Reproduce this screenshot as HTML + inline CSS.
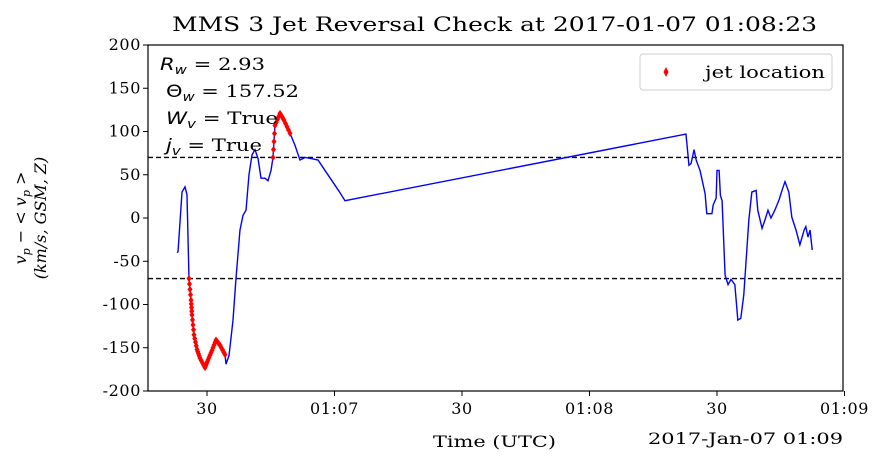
<!DOCTYPE html>
<html><head><meta charset="utf-8"><style>
body{margin:0;background:#fff;}
svg text{font-family:"DejaVu Serif","Liberation Serif",serif;}
</style></head><body>
<svg id="chart" width="887" height="467" xmlns="http://www.w3.org/2000/svg">
<text x="172" y="31" font-size="20" textLength="645" lengthAdjust="spacingAndGlyphs">MMS 3 Jet Reversal Check at 2017-01-07 01:08:23</text>
<g id="plot"></g>
<rect x="148" y="45" width="695" height="346" fill="none" stroke="#000" stroke-width="1.2"/>
<g font-size="17">
<text x="160" y="70" textLength="105" lengthAdjust="spacingAndGlyphs"><tspan font-style="italic" font-family="DejaVu Sans">R<tspan font-size="12" dy="4">w</tspan></tspan><tspan dy="-4"> = 2.93</tspan></text>
<text x="166" y="97" textLength="133" lengthAdjust="spacingAndGlyphs"><tspan font-family="DejaVu Sans">Θ<tspan font-size="12" dy="4" font-style="italic">w</tspan></tspan><tspan dy="-4"> = 157.52</tspan></text>
<text x="166" y="124" textLength="112" lengthAdjust="spacingAndGlyphs"><tspan font-style="italic" font-family="DejaVu Sans">W<tspan font-size="12" dy="4">v</tspan></tspan><tspan dy="-4"> = True</tspan></text>
<text x="166" y="151" textLength="96" lengthAdjust="spacingAndGlyphs"><tspan font-style="italic" font-family="DejaVu Sans">j<tspan font-size="12" dy="4">v</tspan></tspan><tspan dy="-4"> = True</tspan></text>
</g>
<g>
<rect x="640" y="54" width="192" height="36" rx="3" fill="#fff" stroke="#ccc"/>
<path d="M666 67 L668.5 72 L666 77 L663.5 72 Z" fill="red"/>
<text x="705" y="78" font-size="17" textLength="120" lengthAdjust="spacingAndGlyphs">jet location</text>
</g>
<g transform="translate(32,218) rotate(-90)" font-size="16" font-family="DejaVu Sans" text-anchor="middle">
<text x="0" y="-6" font-style="italic" font-family="DejaVu Sans">v<tspan font-size="11" dy="4">p</tspan><tspan dy="-4" font-style="normal"> − &lt; </tspan>v<tspan font-size="11" dy="4">p</tspan><tspan dy="-4" font-style="normal"> &gt;</tspan></text>
<text x="0" y="14" font-style="italic" font-family="DejaVu Sans">(km/s, GSM, Z)</text>
</g>
<text x="433" y="447" font-size="16" textLength="123" lengthAdjust="spacingAndGlyphs">Time (UTC)</text>
<text x="648" y="444" font-size="16" textLength="195" lengthAdjust="spacingAndGlyphs">2017-Jan-07 01:09</text>
</svg>
<script>
const times=[22.94,23.18,24.12,24.82,25.29,25.76,26.24,26.47,26.94,27.65,28.35,29.53,30.24,31.18,32.12,33.06,34.24,34.47,35.18,36.12,36.82,37.76,38.47,39.18,39.88,40.59,41.29,42.0,42.71,43.65,44.35,45.06,45.53,46.0,47.18,48.12,49.53,50.71,51.88,53.06,54.24,56.12,57.76,61.06,62.47,142.7,143.4,143.9,144.6,145.1,146.0,146.5,147.2,147.6,148.8,149.1,149.8,150.0,150.5,150.8,151.2,151.9,152.6,153.3,154.2,154.9,155.6,156.3,157.5,158.2,159.2,159.6,160.6,161.3,162.0,162.7,163.6,164.6,165.3,166.0,166.9,167.6,168.6,169.5,170.5,170.9,171.4,171.9,172.4];
const values=[-40,-39,30,36,27,-70,-95,-112,-135,-152,-162,-173,-164,-153,-141,-147,-158,-169,-159,-118,-70,-14,3,9,50,73,79,69,46,46,43,55,70,107,121,113,98,84,67,70,69,67,55,31,20,97,61,63,79,67,55,44,28,5,5,15,23,55,55,26,20,-66,-77,-71,-77,-118,-116,-89,-2,30,32,9,-12,-2,9,0,9,21,32,42,30,1,-14,-31,-14,-10,-22,-14,-37];
const jetRanges=[[25.7,34.3],[45.5,49.6]];
const yTicks=[200,150,100,50,0,-50,-100,-150,-200];
const xTickTimes=[30,60,90,120,150,180];
const xTickLabels=["30","01:07","30","01:08","30","01:09"];
const threshold=70;

const X=t=>207+(t-30)*4.25;
const Y=v=>218-v*0.865;
const NS="http://www.w3.org/2000/svg";
const g=document.getElementById('plot');
function mk(tag,attrs){const e=document.createElementNS(NS,tag);for(const k in attrs)e.setAttribute(k,attrs[k]);g.appendChild(e);return e;}

yTicks.forEach(v=>{
 const l=mk('line',{x1:143,x2:148,y1:Y(v),y2:Y(v),stroke:'#000'});
 
 
 const t=mk('text',{x:141,y:Y(v)+5,'font-size':16,'text-anchor':'end','letter-spacing':'0.6'});
 t.textContent=v;
 
 
});
xTickTimes.forEach((tt,i)=>{
 const l=mk('line',{x1:X(tt),x2:X(tt),y1:391,y2:396,stroke:'#000'});
 
 
 const t=mk('text',{x:X(tt),y:414,'font-size':16,'text-anchor':'middle','letter-spacing':'0.6'});
 t.textContent=xTickLabels[i];
 
 
});
[threshold,-threshold].forEach(v=>{
 const l=mk('line',{x1:148,x2:843,y1:Y(v),y2:Y(v),stroke:'#000','stroke-width':1.3,'stroke-dasharray':'5,3'});
 
 
});
const p=mk('polyline',{points:times.map((t,i)=>X(t)+','+Y(values[i])).join(' '),fill:'none',stroke:'blue','stroke-width':1.4});


const inJet=t=>jetRanges.some(r=>t>=r[0]&&t<=r[1]);
function marker(x,y){
 const m=mk('path',{d:`M${x} ${y-3.5}L${x+2.5} ${y}L${x} ${y+3.5}L${x-2.5} ${y}Z`,fill:'red'});
 
 
}
times.forEach((t,i)=>{
 if(!inJet(t))return;
 const x=X(t),y=Y(values[i]);
 marker(x,y);
 if(i+1<times.length&&inJet(times[i+1])){
  const x2=X(times[i+1]),y2=Y(values[i+1]);
  for(let k=1;k<4;k++)marker(x+(x2-x)*k/4,y+(y2-y)*k/4);
 }
});
</script>
</body></html>
